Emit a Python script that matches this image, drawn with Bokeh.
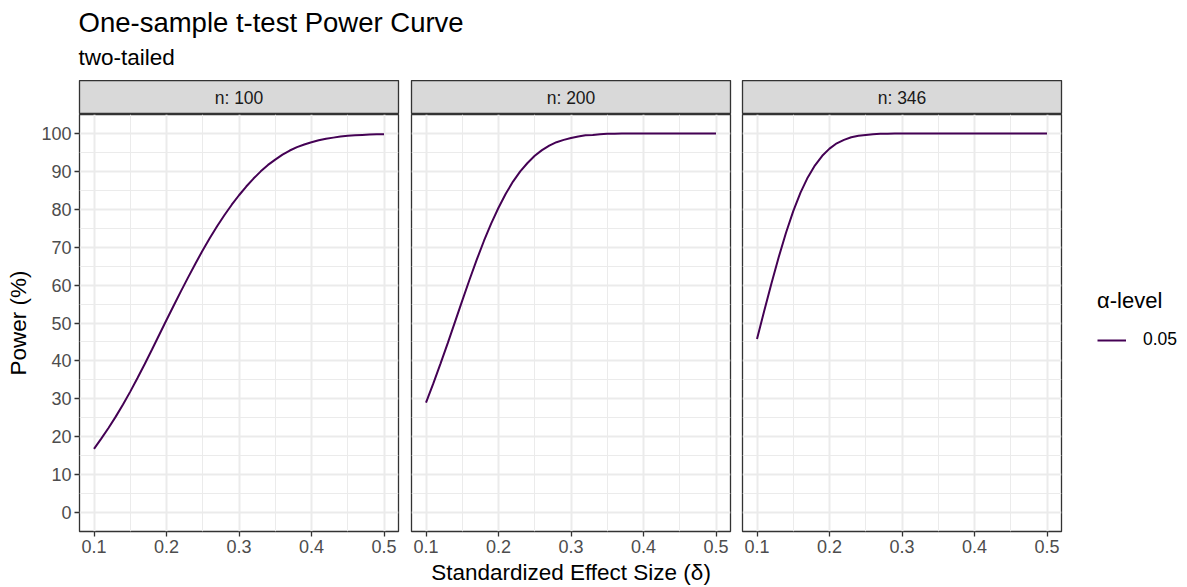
from bokeh.plotting import figure
from bokeh.layouts import row, column
from bokeh.models import (Range1d, FixedTicker, Label, Legend, LegendItem,
                          ColumnDataSource)
from bokeh.core.properties import value
from bokeh.embed import file_html
from bokeh.resources import INLINE

# Effect sizes (delta) on the x axis
delta = [0.10, 0.11, 0.12, 0.13, 0.14, 0.15, 0.16, 0.17, 0.18, 0.19,
         0.20, 0.21, 0.22, 0.23, 0.24, 0.25, 0.26, 0.27, 0.28, 0.29,
         0.30, 0.31, 0.32, 0.33, 0.34, 0.35, 0.36, 0.37, 0.38, 0.39,
         0.40, 0.41, 0.42, 0.43, 0.44, 0.45, 0.46, 0.47, 0.48, 0.49, 0.50]

# Power (%) for each sample size, alpha = 0.05, two-tailed
power_n100 = [16.8, 19.5, 22.3, 25.3, 28.5, 31.9, 35.5, 39.2, 43.0, 46.9,
              50.8, 54.6, 58.4, 62.1, 65.7, 69.2, 72.5, 75.6, 78.5, 81.2,
              83.7, 86.0, 88.1, 90.0, 91.7, 93.1, 94.4, 95.5, 96.4, 97.1,
              97.7, 98.2, 98.6, 98.9, 99.2, 99.4, 99.5, 99.6, 99.7, 99.8, 99.8]
power_n200 = [29.0, 34.0, 39.3, 44.7, 50.3, 55.9, 61.4, 66.7, 71.7, 76.3,
              80.4, 84.1, 87.3, 90.0, 92.2, 94.1, 95.6, 96.8, 97.7, 98.3,
              98.8, 99.2, 99.5, 99.6, 99.8, 99.9, 99.9, 100.0, 100.0, 100.0,
              100.0, 100.0, 100.0, 100.0, 100.0, 100.0, 100.0, 100.0, 100.0, 100.0, 100.0]
power_n346 = [45.8, 53.2, 60.5, 67.4, 73.8, 79.5, 84.4, 88.4, 91.6, 94.1,
              96.0, 97.4, 98.3, 99.0, 99.4, 99.6, 99.8, 99.9, 99.9, 100.0,
              100.0, 100.0, 100.0, 100.0, 100.0, 100.0, 100.0, 100.0, 100.0, 100.0,
              100.0, 100.0, 100.0, 100.0, 100.0, 100.0, 100.0, 100.0, 100.0, 100.0, 100.0]

sample_sizes = [100, 200, 346]
powers = [power_n100, power_n200, power_n346]
strip_labels = ["n: 100", "n: 200", "n: 346"]
alpha_label = "0.05"

x_ticks = [0.1, 0.2, 0.3, 0.4, 0.5]
x_minor = [0.15, 0.25, 0.35, 0.45]
y_ticks = [0, 10, 20, 30, 40, 50, 60, 70, 80, 90, 100]
y_minor = [5, 15, 25, 35, 45, 55, 65, 75, 85, 95]

FONT = "Liberation Sans"
LINE_COLOR = "#440154"
BORDER = "#333333"
GRID = "#ebebeb"

FRAME_W, FRAME_H = 319, 417
STRIP_H = 34
HEAD_H = 80
BOTTOM = 56
borders = [(79, 6), (7, 6), (6, 126)]

# ---- header with title and subtitle ----
head = figure(width=1187, height=HEAD_H, x_range=Range1d(0, 1187), y_range=Range1d(0, HEAD_H),
              min_border=0, toolbar_location=None, output_backend="svg",
              x_axis_location=None, y_axis_location=None, outline_line_color=None)
head.grid.visible = False
head.add_layout(Label(x=78, y=HEAD_H - 22, text="One-sample t-test Power Curve",
                      text_font=FONT, text_font_size="27.5px", text_color="#000000",
                      text_baseline="alphabetic"))
head.add_layout(Label(x=78, y=HEAD_H - 57, text="two-tailed",
                      text_font=FONT, text_font_size="22.5px", text_color="#000000",
                      text_baseline="alphabetic"))

columns = []
for i, (n, pw, lab) in enumerate(zip(sample_sizes, powers, strip_labels)):
    left, right = borders[i]

    # facet strip
    strip = figure(frame_width=FRAME_W, frame_height=STRIP_H,
                   x_range=Range1d(0, 1), y_range=Range1d(0, 1),
                   min_border_left=left, min_border_right=right,
                   min_border_top=0, min_border_bottom=0,
                   toolbar_location=None, output_backend="svg",
                   x_axis_location=None, y_axis_location=None,
                   background_fill_color="#d9d9d9", border_fill_color="white",
                   outline_line_color=BORDER, outline_line_width=1.3)
    strip.grid.visible = False
    strip.text(x=[0.5], y=[0.5], text=[lab], text_font=value(FONT),
               text_font_size="17.5px", text_color="#1a1a1a",
               text_align="center", text_baseline="middle")

    # panel
    p = figure(frame_width=FRAME_W, frame_height=FRAME_H,
               x_range=Range1d(0.08, 0.52), y_range=Range1d(-5, 105),
               min_border_left=left, min_border_right=right,
               min_border_top=0, min_border_bottom=BOTTOM,
               toolbar_location=None, output_backend="svg",
               background_fill_color="white", border_fill_color="white",
               outline_line_color=BORDER, outline_line_width=1.3)

    p.xaxis.ticker = FixedTicker(ticks=x_ticks, minor_ticks=x_minor)
    p.yaxis.ticker = FixedTicker(ticks=y_ticks, minor_ticks=y_minor)
    for ax in (p.xaxis, p.yaxis):
        ax.axis_line_color = None
        ax.major_tick_line_color = BORDER
        ax.major_tick_line_width = 1.3
        ax.major_tick_out = 5
        ax.major_tick_in = 0
        ax.minor_tick_line_color = None
        ax.major_label_text_font = FONT
        ax.major_label_text_font_size = "18px"
        ax.major_label_text_color = "#4d4d4d"
        ax.major_label_standoff = 3
        ax.axis_label_text_font = FONT
        ax.axis_label_text_font_size = "22.5px"
        ax.axis_label_text_font_style = "normal"
        ax.axis_label_text_color = "#000000"
    p.xaxis.formatter.use_scientific = False

    if i == 0:
        p.yaxis.axis_label = "Power (%)"
        p.yaxis.axis_label_standoff = 7
    else:
        p.yaxis.visible = False
    if i == 1:
        p.xaxis.axis_label = "Standardized Effect Size (\u03b4)"
        p.xaxis.axis_label_standoff = 4

    p.xgrid.grid_line_color = GRID
    p.xgrid.grid_line_width = 2
    p.ygrid.grid_line_color = GRID
    p.ygrid.grid_line_width = 2
    p.xgrid.minor_grid_line_color = GRID
    p.xgrid.minor_grid_line_width = 1
    p.ygrid.minor_grid_line_color = GRID
    p.ygrid.minor_grid_line_width = 1

    src = ColumnDataSource(data=dict(delta=delta, power=pw))
    r = p.line("delta", "power", source=src, line_color=LINE_COLOR, line_width=2)

    if i == 2:
        legend = Legend(items=[LegendItem(label=alpha_label, renderers=[r])],
                        title="\u03b1-level", location=(36, 181),
                        title_text_font=FONT, title_text_font_size="22px",
                        title_text_font_style="normal", title_text_color="#000000",
                        title_standoff=15,
                        label_text_font=FONT, label_text_font_size="17.5px",
                        label_text_color="#000000", label_standoff=17,
                        glyph_width=29, glyph_height=20,
                        border_line_color=None, background_fill_alpha=0,
                        margin=0, padding=10)
        p.add_layout(legend, "right")

    columns.append(column(strip, p, spacing=0))

layout = column(head, row(*columns, spacing=0), spacing=0)

open("out.html", "w").write(file_html(layout, INLINE))
